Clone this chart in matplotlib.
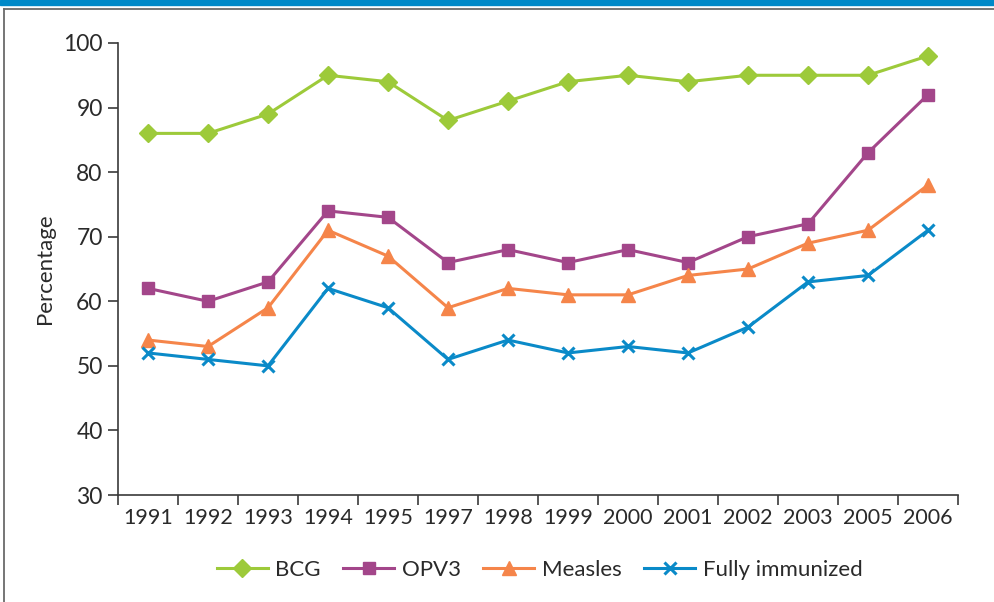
import matplotlib.pyplot as plt
from matplotlib.lines import Line2D
from matplotlib.patches import Rectangle

plt.rcParams['font.family'] = ['Lato', 'DejaVu Sans']

# Data
years = ["1991", "1992", "1993", "1994", "1995", "1997", "1998",
         "1999", "2000", "2001", "2002", "2003", "2005", "2006"]
bcg = [86, 86, 89, 95, 94, 88, 91, 94, 95, 94, 95, 95, 95, 98]
opv3 = [62, 60, 63, 74, 73, 66, 68, 66, 68, 66, 70, 72, 83, 92]
measles = [54, 53, 59, 71, 67, 59, 62, 61, 61, 64, 65, 69, 71, 78]
fully = [52, 51, 50, 62, 59, 51, 54, 52, 53, 52, 56, 63, 64, 71]

x = list(range(len(years)))
axis_col = "#3a3a3a"
text_col = "#2a2a2a"

fig = plt.figure(figsize=(9.95, 6.02), dpi=100)
ax = fig.add_axes([0.1186, 0.1777, 0.8442, 0.7509])

ax.plot(x, bcg, color="#9dca3a", lw=2.2, marker="D", ms=9.5, label="BCG")
ax.plot(x, opv3, color="#a3468a", lw=2.2, marker="s", ms=8.5, label="OPV3")
ax.plot(x, measles, color="#f5854a", lw=2.2, marker="^", ms=10.5, label="Measles")
ax.plot(x, fully, color="#0a8ac8", lw=2.2, marker="x", ms=9, mew=2.2,
        label="Fully immunized")

ax.set_xlim(-0.5, len(years) - 0.5)
ax.set_ylim(30, 100)
ax.set_yticks(range(30, 101, 10))

# category axis: ticks between categories, labels at centres
ax.set_xticks([i - 0.5 for i in range(len(years) + 1)])
ax.set_xticklabels([])
ax.set_xticks(x, minor=True)
ax.set_xticklabels(years, minor=True)
ax.tick_params(axis="x", which="major", length=7, width=1.2, color=axis_col)
ax.tick_params(axis="x", which="minor", length=0, pad=9,
               labelsize=15.5, labelcolor=text_col)
ax.tick_params(axis="y", length=7, width=1.2, color=axis_col,
               labelsize=16.5, labelcolor=text_col, pad=4)

for s in ["top", "right"]:
    ax.spines[s].set_visible(False)
for s in ["left", "bottom"]:
    ax.spines[s].set_color(axis_col)
    ax.spines[s].set_linewidth(1.2)

ax.set_ylabel("Percentage", fontsize=16, color=text_col, labelpad=6)

ax.legend(loc="center", bbox_to_anchor=(0.502, -0.166), ncol=4, frameon=False,
          fontsize=16, handlelength=2.3, columnspacing=1.0, handletextpad=0.35,
          labelcolor=text_col)

# page frame: blue band on top, grey rules
fig.patches.append(Rectangle((0, 1 - 5 / 602), 1, 5 / 602, transform=fig.transFigure,
                             color="#0089c8", zorder=0))
fig.lines.append(Line2D([4.5 / 995, 1], [1 - 8.5 / 602, 1 - 8.5 / 602],
                        transform=fig.transFigure, color="#6a6a6a", lw=1.3))
fig.lines.append(Line2D([4.5 / 995, 4.5 / 995], [0, 1 - 8.5 / 602],
                        transform=fig.transFigure, color="#6a6a6a", lw=1.3))

plt.savefig("out.png", dpi=100)
